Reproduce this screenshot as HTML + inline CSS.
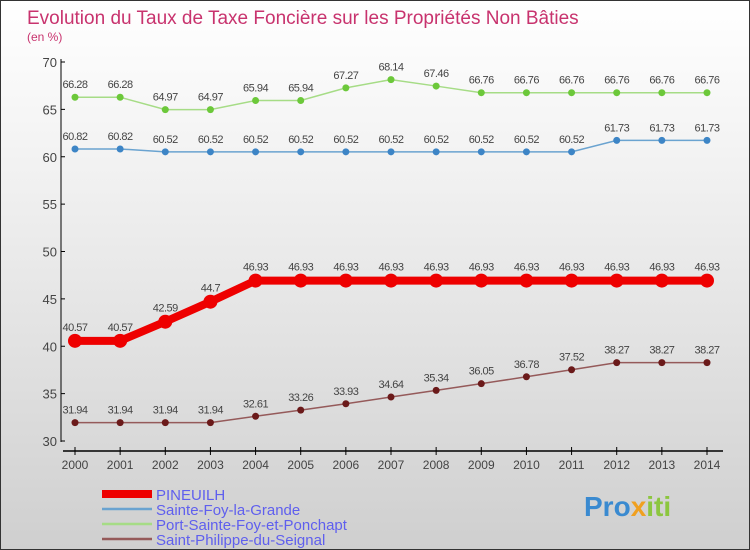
<!DOCTYPE html>
<html><head><meta charset="utf-8"><style>
body{margin:0;}
#c{width:748px;height:548px;border:1px solid #333;position:relative;background:linear-gradient(#ffffff,#f2f2f2 30%,#cfcfcf);font-family:"Liberation Sans",sans-serif;overflow:hidden}
</style></head><body>
<div id="c">
<svg id="s" width="748" height="548" xmlns="http://www.w3.org/2000/svg">
<text x="26" y="23" font-size="19" fill="#c8336e">Evolution du Taux de Taxe Foncière sur les Propriétés Non Bâties</text>
<text x="26" y="40" font-size="12" fill="#c8336e">(en %)</text>
<g id="axes"></g><g id="series"></g>
<text x="583" y="515" font-size="28" font-weight="bold" fill="#3a8ad0">Pro<tspan fill="#f0a020">x</tspan><tspan fill="#8cc63f">iti</tspan></text>
</svg></div>
<script>
const years=[2000,2001,2002,2003,2004,2005,2006,2007,2008,2009,2010,2011,2012,2013,2014];
const yTicks=[30,35,40,45,50,55,60,65,70];
const seriesNames=["PINEUILH","Sainte-Foy-la-Grande","Port-Sainte-Foy-et-Ponchapt","Saint-Philippe-du-Seignal"];
const pineuilh=[40.57,40.57,42.59,44.7,46.93,46.93,46.93,46.93,46.93,46.93,46.93,46.93,46.93,46.93,46.93];
const sainteFoy=[60.82,60.82,60.52,60.52,60.52,60.52,60.52,60.52,60.52,60.52,60.52,60.52,61.73,61.73,61.73];
const portSainteFoy=[66.28,66.28,64.97,64.97,65.94,65.94,67.27,68.14,67.46,66.76,66.76,66.76,66.76,66.76,66.76];
const saintPhilippe=[31.94,31.94,31.94,31.94,32.61,33.26,33.93,34.64,35.34,36.05,36.78,37.52,38.27,38.27,38.27];
const NS="http://www.w3.org/2000/svg";
const xS=i=>74+i*(706-74)/14;
const yS=v=>440-(v-30)*(440-61)/40;
function mk(t,a,p){const e=document.createElementNS(NS,t);for(const k in a)e.setAttribute(k,a[k]);p.appendChild(e);return e;}
const ax=document.getElementById('axes'),sg=document.getElementById('series');
let yl=mk('line',{x1:60,y1:58,x2:60,y2:441,stroke:'#000','stroke-width':1},ax);


yTicks.forEach(v=>{
 mk('line',{x1:60,x2:64,y1:yS(v),y2:yS(v),stroke:'#000'},ax);
 const t=mk('text',{x:56,y:yS(v)+5,'font-size':13,fill:'#444','text-anchor':'end'},ax);t.textContent=v;
 
 
});
let xl=mk('line',{x1:62,y1:450,x2:722,y2:450,stroke:'#000','stroke-width':1.5},ax);


years.forEach((y,i)=>{
 mk('line',{x1:xS(i),x2:xS(i),y1:446,y2:454,stroke:'#000'},ax);
 const t=mk('text',{x:xS(i),y:468,'font-size':12,fill:'#444','text-anchor':'middle'},ax);t.textContent=y;
 
 
});
const defs=[[pineuilh,'#ee0000',8,7,'#ee0000'],[sainteFoy,'#6aa3d0',1.5,3.5,'#3d85c6'],[portSainteFoy,'#a6dc86',1.5,3.5,'#6cc83a'],[saintPhilippe,'#955a5a',1.5,3.5,'#6b1a1a']];
defs.forEach((d,si)=>{
 const g=mk('g',{},sg);
 
 
 const p=mk('polyline',{points:d[0].map((v,i)=>xS(i)+','+yS(v)).join(' '),fill:'none',stroke:d[1],'stroke-width':d[2]},g);
 
 
 d[0].forEach((v,i)=>{
  const c=mk('circle',{cx:xS(i),cy:yS(v),r:d[3],fill:d[4]},g);
  
  
  const t=mk('text',{x:xS(i),y:yS(v)-(si==0?10:9),'font-size':11,fill:'#444','text-anchor':'middle','letter-spacing':'-0.5'},g);
  t.textContent=v;
  
  
 });
});
seriesNames.forEach((n,i)=>{
 const y=493+i*15;
 const l=mk('line',{x1:101,x2:151,y1:y,y2:y,stroke:defs[i][1],'stroke-width':i==0?8:2.5},sg);
 
 
 const t=mk('text',{x:155,y:y+6,'font-size':15,fill:'#5f5fee'},sg);t.textContent=n;
 
 
});
</script></body></html>
